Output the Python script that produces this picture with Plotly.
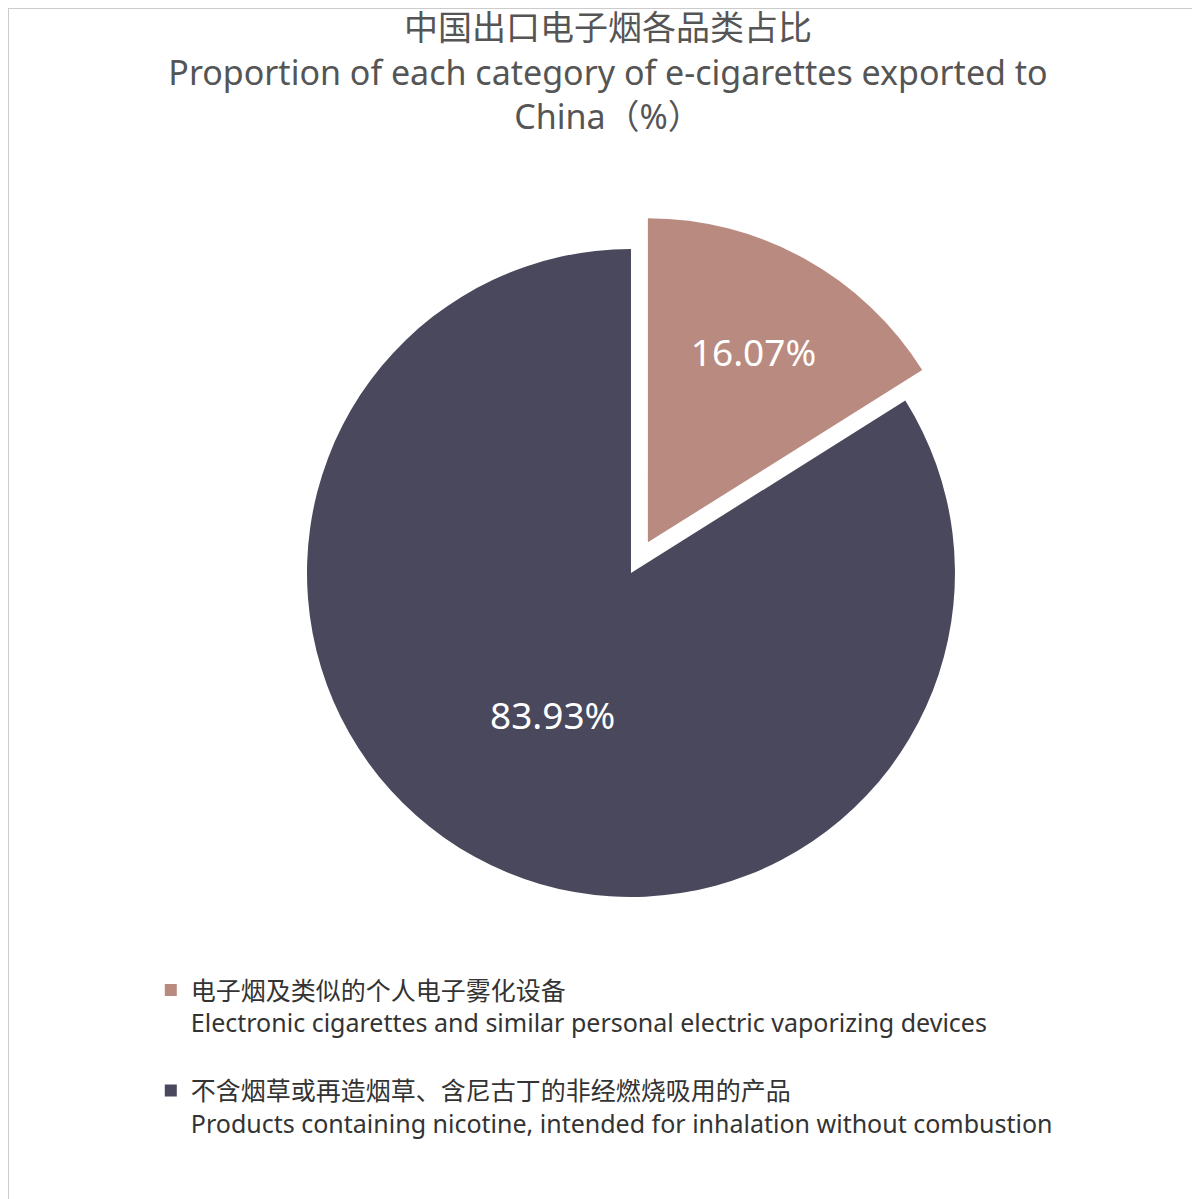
import plotly.graph_objects as go

# 中国出口电子烟各品类占比 (%)
labels_cn = ["电子烟及类似的个人电子雾化设备",
             "不含烟草或再造烟草、含尼古丁的非经燃烧吸用的产品"]
labels_en = ["Electronic cigarettes and similar personal electric vaporizing devices",
             "Products containing nicotine, intended for inhalation without combustion"]
shares = [16.07, 83.93]
colors = ["#B98A80", "#4A485C"]

font_family = "Noto Sans, Noto Sans CJK SC, sans-serif"

legend_labels = [f"{cn}<br>{en}<br> " for cn, en in zip(labels_cn, labels_en)]

fig = go.Figure()

fig.add_trace(go.Pie(
    labels=legend_labels,
    values=shares,
    sort=False,
    direction="clockwise",
    rotation=0,
    pull=[0.108, 0],
    marker=dict(colors=colors, line=dict(width=0)),
    texttemplate="%{value:.2f}%",
    textposition="inside",
    insidetextorientation="horizontal",
    textfont=dict(color="white", size=37, family=font_family),
    hoverinfo="label+value",
    domain=dict(x=[0.22, 0.8183], y=[0.2294, 0.8282]),
))

fig.update_layout(
    width=1200,
    height=1199,
    paper_bgcolor="white",
    plot_bgcolor="white",
    margin=dict(l=0, r=0, t=0, b=0),
    font=dict(family=font_family, color="#333333"),
    title=dict(
        text="中国出口电子烟各品类占比<br>Proportion of each category of e-cigarettes exported to<br>China（%）",
        x=0.5, xanchor="center",
        y=0.973, yanchor="top",
        font=dict(size=34, color="#555555", family=font_family),
    ),
    legend=dict(
        x=0.119, xanchor="left",
        y=0.2, yanchor="top",
        orientation="v",
        valign="top",
        font=dict(size=25, color="#333333", family=font_family),
        bgcolor="rgba(0,0,0,0)",
    ),
    shapes=[dict(type="rect", xref="paper", yref="paper",
                 x0=0, y0=0, x1=1, y1=1,
                 line=dict(color="#CCCCCC", width=2))],
)

fig.write_html("out.html")
